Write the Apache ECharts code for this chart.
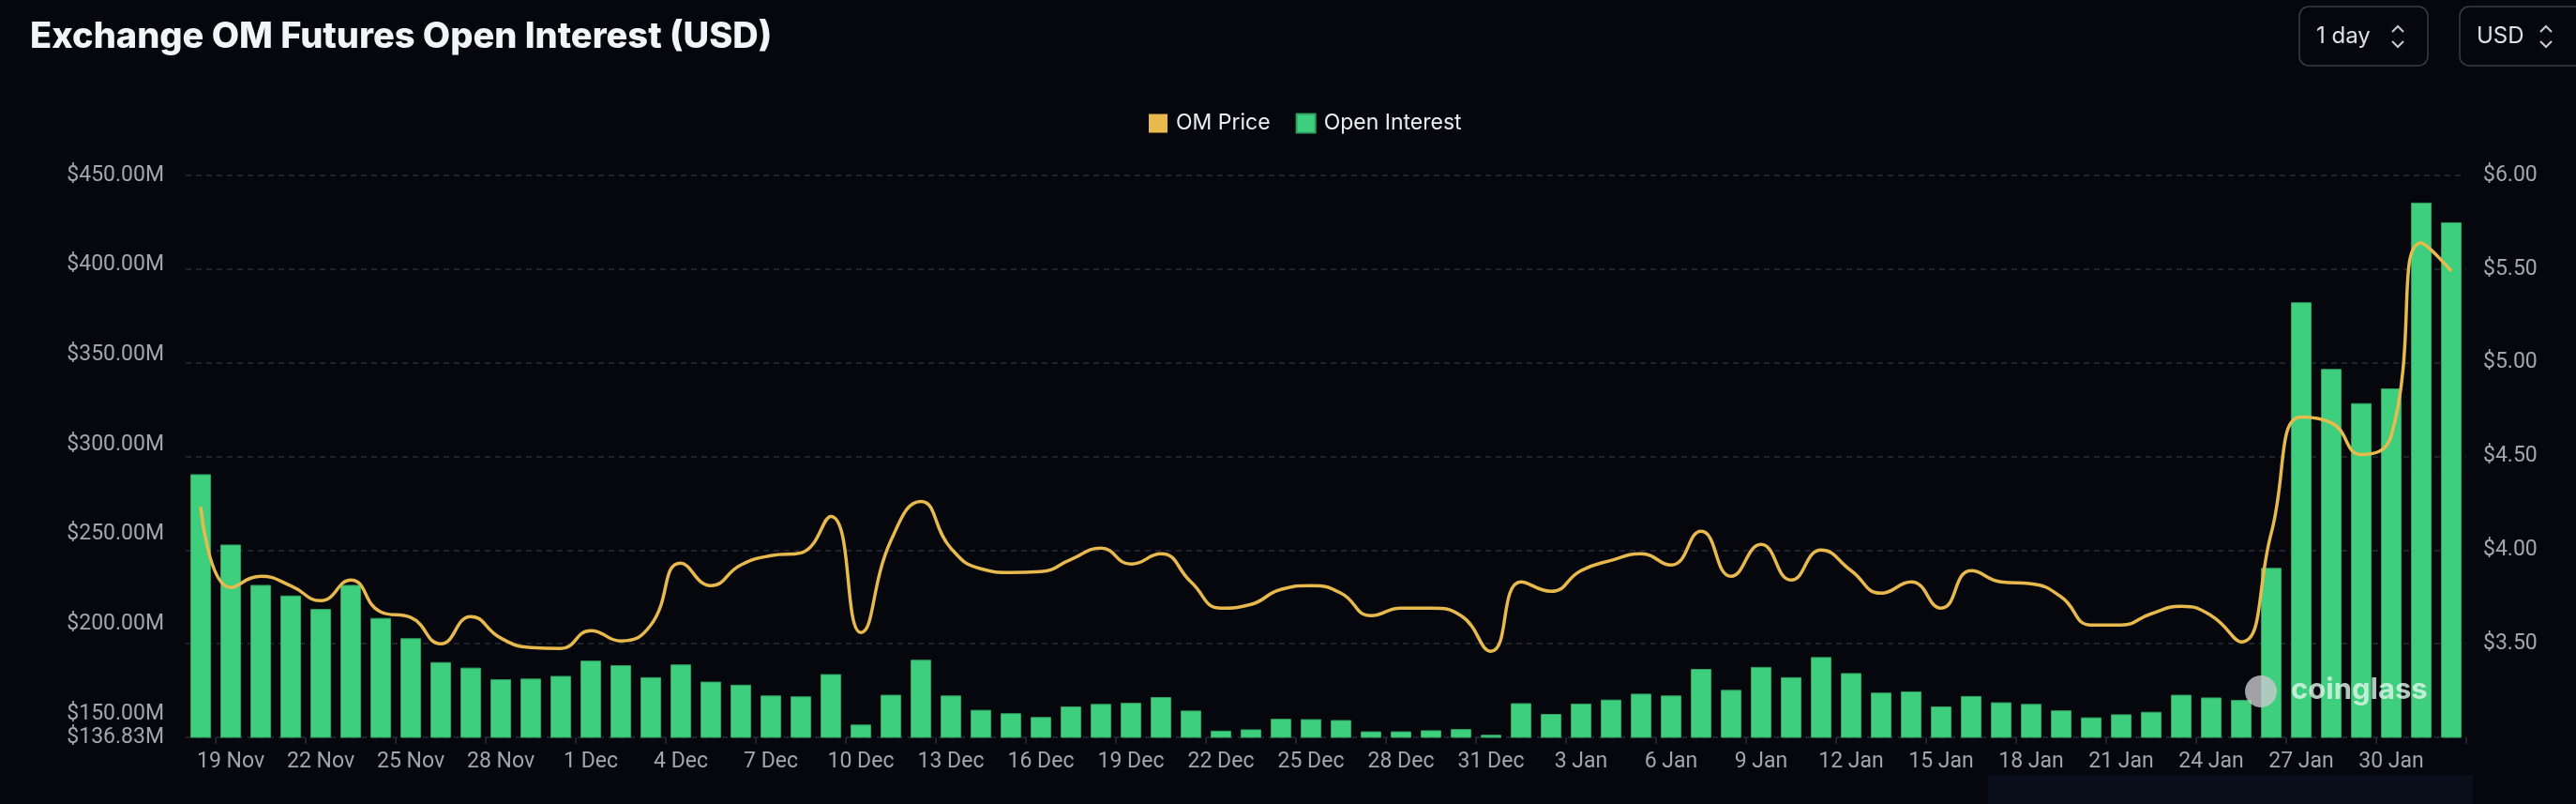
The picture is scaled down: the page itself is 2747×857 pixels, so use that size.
<!DOCTYPE html>
<html>
<head>
<meta http-equiv="Content-Type" content="text/html; charset=UTF-8">
<title>Exchange OM Futures Open Interest</title>
<script type="text/javascript" src="https://cdn.jsdelivr.net/npm/echarts@6/dist/echarts.min.js"></script>
<style>
  html, body { margin: 0; padding: 0; background: #05070c; }
</style>
</head>
<body>
    <div id="main" style="width: 2747px; height: 857px;"></div>
    <script type="text/javascript">
        // dates, one per day
        var dates = [
            '18 Nov','19 Nov','20 Nov','21 Nov','22 Nov','23 Nov','24 Nov','25 Nov','26 Nov','27 Nov',
            '28 Nov','29 Nov','30 Nov','1 Dec','2 Dec','3 Dec','4 Dec','5 Dec','6 Dec','7 Dec',
            '8 Dec','9 Dec','10 Dec','11 Dec','12 Dec','13 Dec','14 Dec','15 Dec','16 Dec','17 Dec',
            '18 Dec','19 Dec','20 Dec','21 Dec','22 Dec','23 Dec','24 Dec','25 Dec','26 Dec','27 Dec',
            '28 Dec','29 Dec','30 Dec','31 Dec','1 Jan','2 Jan','3 Jan','4 Jan','5 Jan','6 Jan',
            '7 Jan','8 Jan','9 Jan','10 Jan','11 Jan','12 Jan','13 Jan','14 Jan','15 Jan','16 Jan',
            '17 Jan','18 Jan','19 Jan','20 Jan','21 Jan','22 Jan','23 Jan','24 Jan','25 Jan','26 Jan',
            '27 Jan','28 Jan','29 Jan','30 Jan','31 Jan','1 Feb'
        ];
        // open interest, millions USD
        var openInterest = [
            283.5, 244.3, 221.8, 215.9, 208.4, 221.8, 203.4, 192.1, 178.8, 175.7,
            169.2, 169.6, 171.1, 179.6, 177.1, 170.4, 177.5, 167.9, 166.2, 160.2,
            159.7, 172.1, 144.0, 160.6, 180.1, 160.2, 152.2, 150.3, 148.2, 154.1,
            155.5, 156.1, 159.3, 151.8, 140.6, 141.3, 147.2, 147.0, 146.5, 140.2,
            140.2, 140.8, 141.5, 138.3, 155.9, 149.9, 155.7, 157.9, 161.2, 160.2,
            175.0, 163.3, 176.1, 170.4, 181.6, 172.7, 161.8, 162.5, 154.1, 159.9,
            156.4, 155.5, 151.9, 148.0, 149.7, 151.1, 160.6, 159.1, 157.7, 231.3,
            379.3, 342.2, 323.1, 331.3, 434.9, 423.9
        ];
        // OM price, USD
        var omPrice = [
            4.23, 3.80, 3.86, 3.81, 3.73, 3.84, 3.67, 3.64, 3.50, 3.645,
            3.53, 3.48, 3.475, 3.57, 3.515, 3.60, 3.93, 3.81, 3.92, 3.97,
            3.985, 4.18, 3.56, 4.05, 4.26, 4.01, 3.90, 3.88, 3.885, 3.95,
            4.01, 3.925, 3.98, 3.83, 3.69, 3.71, 3.79, 3.81, 3.77, 3.65,
            3.69, 3.69, 3.65, 3.46, 3.83, 3.78, 3.89, 3.945, 3.98, 3.92,
            4.10, 3.86, 4.03, 3.84, 4.00, 3.89, 3.77, 3.83, 3.69, 3.89,
            3.83, 3.82, 3.75, 3.60, 3.60, 3.66, 3.70, 3.65, 3.51, 4.09,
            4.71, 4.68, 4.51, 4.61, 5.64, 5.49
        ];
        // left axis tick labels (millions)
        var oiTicks = [136.83, 150, 200, 250, 300, 350, 400, 450];

        var labelFont = 'Roboto';
        var everyThird = function (idx) { return idx % 3 === 1; };

        var myChart = echarts.init(document.getElementById('main'));
        myChart.setOption({
            backgroundColor: '#05070c',
            animation: false,
            title: {
                text: 'Exchange OM Futures Open Interest (USD)',
                left: 27,
                top: 16,
                textStyle: {
                    color: '#f3f4f8',
                    fontFamily: 'Inter',
                    fontWeight: 800,
                    fontSize: 38
                }
            },
            legend: {
                left: 1220,
                top: 115,
                itemWidth: 20,
                itemHeight: 20,
                itemGap: 27,
                icon: 'rect',
                textStyle: {
                    color: '#eceef2',
                    fontFamily: 'Inter',
                    fontSize: 23,
                    padding: [0, 0, 0, 4]
                },
                data: ['OM Price', 'Open Interest']
            },
            grid: {
                left: 198,
                right: 117,
                top: 187,
                bottom: 71
            },
            xAxis: {
                type: 'category',
                data: dates,
                boundaryGap: true,
                axisLine: { show: false },
                axisTick: {
                    show: true,
                    interval: everyThird,
                    length: 7,
                    lineStyle: { color: '#2c2f36', width: 1.5 }
                },
                axisLabel: {
                    interval: everyThird,
                    color: '#a3a6ae',
                    fontFamily: labelFont,
                    fontSize: 23,
                    margin: 15
                }
            },
            yAxis: [{
                type: 'value',
                min: 136.83,
                max: 450,
                position: 'left',
                splitLine: { show: false },
                axisLine: { show: false },
                axisTick: { show: false },
                axisLabel: {
                    customValues: oiTicks,
                    color: '#a3a6ae',
                    fontFamily: labelFont,
                    fontSize: 23,
                    margin: 23,
                    formatter: function (v) { return '$' + v.toFixed(2) + 'M'; }
                }
            }, {
                type: 'value',
                min: 3,
                max: 6,
                interval: 0.5,
                position: 'right',
                axisLine: { show: false },
                axisTick: { show: false },
                splitLine: {
                    show: true,
                    lineStyle: { color: '#2a2d34', width: 1.5, type: [6, 5] }
                },
                axisLabel: {
                    showMinLabel: false,
                    color: '#a3a6ae',
                    fontFamily: labelFont,
                    fontSize: 23,
                    margin: 18,
                    formatter: function (v) { return '$' + v.toFixed(2); }
                }
            }],
            series: [{
                name: 'Open Interest',
                type: 'bar',
                yAxisIndex: 0,
                barWidth: 22,
                itemStyle: { color: '#3ecf7e', borderColor: '#2f9f62', borderWidth: 1 },
                data: openInterest
            }, {
                name: 'OM Price',
                type: 'line',
                yAxisIndex: 1,
                smooth: true,
                showSymbol: false,
                symbol: 'none',
                itemStyle: { color: '#e8b94d' },
                lineStyle: { color: '#e8b94d', width: 3.5 },
                z: 5,
                data: omPrice
            }],
            graphic: [
                // period / currency selectors
                { type: 'rect', shape: { x: 2452, y: 7, width: 137, height: 63, r: 10 },
                  style: { fill: '#05070c', stroke: '#3a3d45', lineWidth: 1.5 } },
                { type: 'text', x: 2470, y: 39,
                  style: { text: '1 day', fill: '#dde1e8', font: '24px Inter', verticalAlign: 'middle' } },
                { type: 'polyline', shape: { points: [[2551, 34], [2557, 28], [2563, 34]] },
                  style: { stroke: '#c9ccd3', lineWidth: 2, fill: null } },
                { type: 'polyline', shape: { points: [[2551, 44], [2557, 50], [2563, 44]] },
                  style: { stroke: '#c9ccd3', lineWidth: 2, fill: null } },
                { type: 'rect', shape: { x: 2623, y: 7, width: 140, height: 63, r: 10 },
                  style: { fill: '#05070c', stroke: '#3a3d45', lineWidth: 1.5 } },
                { type: 'text', x: 2641, y: 39,
                  style: { text: 'USD', fill: '#dde1e8', font: '24px Inter', verticalAlign: 'middle' } },
                { type: 'polyline', shape: { points: [[2709, 34], [2715, 28], [2721, 34]] },
                  style: { stroke: '#c9ccd3', lineWidth: 2, fill: null } },
                { type: 'polyline', shape: { points: [[2709, 44], [2715, 50], [2721, 44]] },
                  style: { stroke: '#c9ccd3', lineWidth: 2, fill: null } },
                // watermark
                { type: 'circle', shape: { cx: 2411, cy: 737, r: 17 }, z: 10,
                  style: { fill: 'rgba(200,200,205,0.8)' } },
                { type: 'text', x: 2443, y: 736, z: 10,
                  style: { text: 'coinglass', fill: 'rgba(225,245,235,0.8)',
                           font: 'bold 31px Inter', verticalAlign: 'middle' } },
                // zoom slider strip cut off at the bottom
                { type: 'rect', shape: { x: 2120, y: 826, width: 517, height: 40 },
                  style: { fill: '#0a0f1c' } }
            ]
        });
    </script>
</body>
</html>
